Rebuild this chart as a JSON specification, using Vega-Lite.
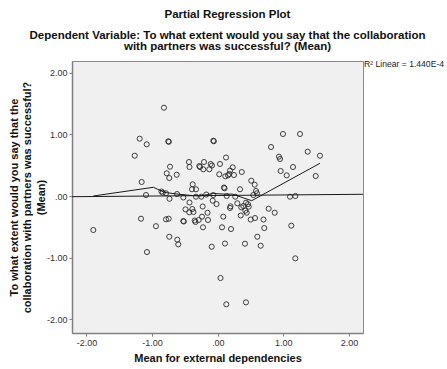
{
  "$schema": "https://vega.github.io/schema/vega-lite/v6.json",
  "width": 291,
  "height": 272,
  "autosize": "none",
  "padding": {"left": 72, "top": 61, "right": 84, "bottom": 36},
  "background": "white",
  "config": {
    "view": {"fill": "#f0f0f0", "stroke": "#8a8a8a", "strokeWidth": 1},
    "font": "Liberation Sans",
    "axis": {
      "grid": false,
      "domainColor": "#808080",
      "domainWidth": 1.5,
      "tickColor": "#808080",
      "tickSize": 3,
      "labelFont": "Liberation Sans",
      "labelFontSize": 9,
      "labelColor": "#333333",
      "titleFont": "Liberation Sans",
      "titleFontWeight": "bold",
      "titleFontSize": 11,
      "titleColor": "#111111"
    }
  },
  "title": {
    "text": "Partial Regression Plot",
    "subtitle": ["Dependent Variable: To what extent would you say that the collaboration", "with partners was successful? (Mean)"],
    "anchor": "middle",
    "frame": "group",
    "dx": 10,
    "font": "Liberation Sans",
    "fontSize": 11.5,
    "fontWeight": "bold",
    "color": "#111111",
    "subtitleFont": "Liberation Sans",
    "subtitleFontSize": 11.5,
    "subtitleFontWeight": "bold",
    "subtitleColor": "#111111",
    "subtitleLineHeight": 11,
    "subtitlePadding": 9,
    "offset": 8
  },
  "datasets": {
    "points": [
      {"x": -0.819, "y": 1.431}, {"x": -1.189, "y": 0.929}, {"x": -1.082, "y": 0.838}, {"x": -0.753, "y": 0.887},
      {"x": -0.745, "y": 0.878}, {"x": -0.067, "y": 0.896}, {"x": -0.059, "y": 0.888}, {"x": -1.265, "y": 0.653},
      {"x": -1.159, "y": 0.227}, {"x": -1.093, "y": 0.016}, {"x": -0.727, "y": 0.475}, {"x": -0.777, "y": 0.368},
      {"x": -0.738, "y": 0.292}, {"x": -0.625, "y": 0.345}, {"x": -0.438, "y": 0.551}, {"x": -0.43, "y": 0.47},
      {"x": -0.28, "y": 0.486}, {"x": -0.27, "y": 0.47}, {"x": -0.209, "y": 0.551}, {"x": -0.22, "y": 0.433},
      {"x": -0.107, "y": 0.519}, {"x": -0.087, "y": 0.494}, {"x": -0.128, "y": 0.433}, {"x": 0.035, "y": 0.519},
      {"x": 0.127, "y": 0.624}, {"x": 0.024, "y": 0.352}, {"x": 0.116, "y": 0.319}, {"x": 0.188, "y": 0.413},
      {"x": 0.229, "y": 0.465}, {"x": 0.177, "y": 0.357}, {"x": 0.248, "y": 0.34}, {"x": 0.157, "y": 0.335},
      {"x": 0.367, "y": 0.389}, {"x": -0.381, "y": 0.19}, {"x": -0.392, "y": 0.109}, {"x": -0.331, "y": 0.109},
      {"x": 0.096, "y": 0.138}, {"x": 0.104, "y": 0.125}, {"x": 0.34, "y": 0.109}, {"x": 0.512, "y": 0.248},
      {"x": 0.564, "y": 0.183}, {"x": 0.584, "y": 0.081}, {"x": 0.599, "y": 0.044}, {"x": 0.543, "y": 0.016},
      {"x": -0.857, "y": 0.073}, {"x": -0.838, "y": 0.053}, {"x": -0.788, "y": 0.044}, {"x": -0.735, "y": -0.045},
      {"x": -0.62, "y": 0.032}, {"x": -0.524, "y": -0.024}, {"x": -0.331, "y": -0.011}, {"x": -0.25, "y": -0.011},
      {"x": -0.174, "y": 0.024}, {"x": -0.067, "y": 0.016}, {"x": 0.137, "y": 0.0}, {"x": 0.268, "y": -0.011},
      {"x": -0.43, "y": -0.105}, {"x": -0.076, "y": -0.076}, {"x": -0.018, "y": -0.13}, {"x": -0.491, "y": -0.216},
      {"x": -0.387, "y": -0.211}, {"x": -0.433, "y": -0.264}, {"x": -0.369, "y": -0.259}, {"x": -0.229, "y": -0.17},
      {"x": -0.155, "y": -0.271}, {"x": 0.188, "y": -0.194}, {"x": 0.195, "y": -0.167}, {"x": 0.299, "y": -0.118},
      {"x": 0.39, "y": -0.162}, {"x": 0.431, "y": -0.109}, {"x": 0.462, "y": -0.133}, {"x": 0.473, "y": -0.173},
      {"x": 0.421, "y": -0.238}, {"x": 0.36, "y": -0.183}, {"x": 0.351, "y": -0.316}, {"x": 0.442, "y": -0.271},
      {"x": 0.777, "y": -0.206}, {"x": 0.869, "y": -0.271}, {"x": -0.524, "y": -0.405}, {"x": -0.517, "y": -0.413},
      {"x": -0.351, "y": -0.397}, {"x": -0.338, "y": -0.421}, {"x": -0.29, "y": -0.389}, {"x": -0.239, "y": -0.335},
      {"x": -0.148, "y": -0.389}, {"x": 0.085, "y": -0.335}, {"x": 0.503, "y": -0.381}, {"x": 0.569, "y": -0.357},
      {"x": 0.698, "y": -0.381}, {"x": -0.224, "y": -0.507}, {"x": 0.066, "y": -0.507}, {"x": 0.203, "y": -0.535},
      {"x": 0.71, "y": -0.519}, {"x": -1.169, "y": -0.368}, {"x": -0.788, "y": -0.378}, {"x": -0.747, "y": -0.368},
      {"x": -0.941, "y": -0.489}, {"x": -1.896, "y": -0.551}, {"x": -0.738, "y": -0.66}, {"x": -0.616, "y": -0.708},
      {"x": -0.601, "y": -0.783}, {"x": -1.078, "y": -0.908}, {"x": -0.091, "y": -0.822}, {"x": 0.111, "y": -0.77},
      {"x": 0.416, "y": -0.773}, {"x": 0.604, "y": -0.66}, {"x": 0.655, "y": -0.806}, {"x": 1.122, "y": -0.481},
      {"x": 1.183, "y": -1.01}, {"x": 0.043, "y": -1.329}, {"x": 0.131, "y": -1.755}, {"x": 0.431, "y": -1.723},
      {"x": 0.813, "y": 0.794}, {"x": 0.995, "y": 1.005}, {"x": 1.255, "y": 1.005}, {"x": 0.934, "y": 0.637},
      {"x": 0.95, "y": 0.6}, {"x": 1.372, "y": 0.718}, {"x": 1.559, "y": 0.653}, {"x": 1.148, "y": 0.47},
      {"x": 0.96, "y": 0.405}, {"x": 1.052, "y": 0.335}, {"x": 1.494, "y": 0.324}, {"x": 1.102, "y": -0.011},
      {"x": 1.183, "y": 0.0}
    ],
    "fit": [
      {"x": -2.221, "y": -0.011},
      {"x": 2.215, "y": 0.028}
    ],
    "smooth": [
      {"x": -1.896, "y": 0.0}, {"x": -0.982, "y": 0.141}, {"x": -0.803, "y": 0.057}, {"x": -0.62, "y": 0.032},
      {"x": -0.422, "y": 0.011}, {"x": -0.27, "y": 0.0}, {"x": -0.067, "y": 0.041}, {"x": 0.137, "y": 0.028},
      {"x": 0.218, "y": 0.032}, {"x": 0.518, "y": -0.076}, {"x": 1.559, "y": 0.53}
    ],
    "note": [{"label": "R² Linear = 1.440E-4"}]
  },
  "layer": [
    {
      "data": {"name": "points"},
      "mark": {"type": "point", "shape": "circle", "filled": false, "color": "#2a2a2a", "strokeWidth": 0.9, "size": 26, "opacity": 1},
      "encoding": {
        "x": {
          "field": "x", "type": "quantitative",
          "scale": {"domain": [-2.221, 2.215], "nice": false, "zero": false},
          "axis": {
            "values": [-2, -1, 0, 1, 2],
            "labelExpr": "datum.value == 0 ? '.00' : (datum.value < 0 ? '-' : '') + format(abs(datum.value), '.2f')",
            "title": "Mean for external dependencies",
            "titlePadding": 5,
            "labelPadding": 2
          }
        },
        "y": {
          "field": "y", "type": "quantitative",
          "scale": {"domain": [-2.22, 2.188], "nice": false, "zero": false},
          "axis": {
            "values": [-2, -1, 0, 1, 2],
            "labelExpr": "datum.value == 0 ? '.00' : (datum.value < 0 ? '-' : '') + format(abs(datum.value), '.2f')",
            "title": ["To what extent would you say that the", "collaboration with partners was successful?", "(Mean)"],
            "titleLineHeight": 13.5,
            "titlePadding": 0,
            "labelPadding": 2
          }
        }
      }
    },
    {
      "data": {"name": "fit"},
      "mark": {"type": "line", "color": "#1a1a1a", "strokeWidth": 1},
      "encoding": {
        "x": {"field": "x", "type": "quantitative"},
        "y": {"field": "y", "type": "quantitative"}
      }
    },
    {
      "data": {"name": "smooth"},
      "mark": {"type": "line", "color": "#1a1a1a", "strokeWidth": 1},
      "encoding": {
        "x": {"field": "x", "type": "quantitative"},
        "y": {"field": "y", "type": "quantitative"}
      }
    },
    {
      "data": {"name": "note"},
      "mark": {"type": "text", "align": "left", "baseline": "middle", "dx": 1, "dy": 3, "fontSize": 8.6, "fill": "#222222", "clip": false},
      "encoding": {
        "x": {"datum": 2.215, "type": "quantitative"},
        "y": {"datum": 2.188, "type": "quantitative"},
        "text": {"field": "label", "type": "nominal"}
      }
    }
  ]
}
